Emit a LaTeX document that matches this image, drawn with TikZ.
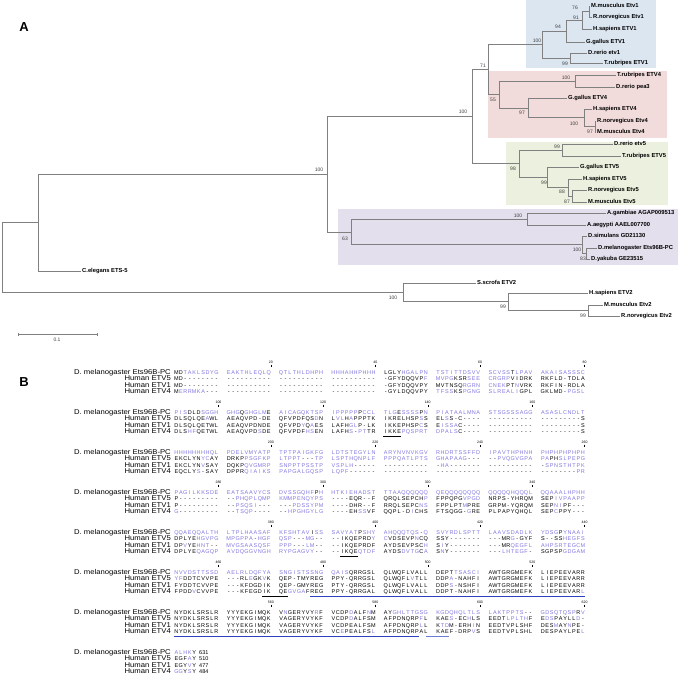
\documentclass[tikz,border=0pt]{standalone}
\usepackage{fontspec}
\setmainfont{Liberation Sans}
\newfontfamily\namefont[FakeStretch=1.1]{Liberation Sans}
\usepackage{xcolor}
\usepackage{tikz}
\usetikzlibrary{arrows.meta}
\definecolor{boxblue}{RGB}{220,230,241}
\definecolor{boxpink}{RGB}{242,220,219}
\definecolor{boxgreen}{RGB}{235,241,222}
\definecolor{boxlilac}{RGB}{228,223,236}
\definecolor{branchgray}{RGB}{128,128,128}
\definecolor{resid}{RGB}{128,118,222}
\definecolor{motif}{RGB}{45,65,190}
% one residue per fixed cell: capitals black, small letters purple, | = block gap
\newcommand{\seqgap}{7.85pt}
\def\sq#1{\sqloop#1\relax}
\def\sqloop#1{\ifx#1\relax\else\sqchar{#1}\expandafter\sqloop\fi}
\def\sqchar#1{\ifx#1|\hspace{\seqgap}\else\makebox[4.45pt][c]{\ifnum`#1>`Z\relax\textcolor{resid}{\uppercase{#1}}\else#1\fi}\fi}
\newcommand{\colx}[2]{174+52.3*#1+4.45*(#2-1)}
\newcommand{\alnrow}[6]{%
  \node[seqname] (dm#1)    at (171,#2)      {D. melanogaster Ets96B-PC};
  \node[seqname] (vfive#1) at (171,#2+6.4)  {Human ETV5};
  \node[seqname] (vone#1)  at (171,#2+12.8) {Human ETV1};
  \node[seqname] (vfour#1) at (171,#2+19.2) {Human ETV4};
  \node[seqline] (sdm#1)   at (174,#2)      {\sq{#3}};
  \node[seqline] (sfive#1) at (174,#2+6.4)  {\sq{#4}};
  \node[seqline] (sone#1)  at (174,#2+12.8) {\sq{#5}};
  \node[seqline] (sfour#1) at (174,#2+19.2) {\sq{#6}};
}
\newcommand{\ruler}[3]{%
  \foreach \n [count=\i from 0] in {#3} {
    \node[rulenum] (tk\n) at ({218.5+52.3*(#2+2*\i)},#1-10.8) {\n};
    \draw[line width=0.3pt] (tk\n.south) ++(0,1) -- ++(0,2.6);
  }
}

\begin{document}
\begin{tikzpicture}[x=1pt, y=-1pt,
  branch/.style={draw=branchgray, line width=0.7pt},
  leaf/.style={anchor=west, inner sep=1pt, text height=4pt, text depth=1pt,
               font=\bfseries\fontsize{5.8}{6}\selectfont},
  boot/.style={inner sep=0pt, font=\fontsize{5}{6}\selectfont, text=black!75},
  panel/.style={inner sep=0pt, font=\bfseries\fontsize{13}{14}\selectfont},
  seqname/.style={anchor=east, inner sep=0pt, text height=4pt, text depth=1pt,
                  font=\namefont\fontsize{7}{7}\selectfont},
  seqline/.style={anchor=west, inner sep=0pt, text height=4pt, text depth=1pt,
                  font=\fontsize{5.5}{6}\selectfont},
  rulenum/.style={inner sep=0pt, font=\fontsize{3.5}{4}\selectfont}]
  \useasboundingbox (0,0) rectangle (678,677);
  % panel A: clade shading
  \fill[boxblue]  (526,0)   rectangle (656,68);
  \fill[boxpink]  (488,71)  rectangle (667,138);
  \fill[boxgreen] (506,142) rectangle (668,205);
  \fill[boxlilac] (338,209) rectangle (678,265);
  \node[panel] (pa) at (24,27) {A};
  % tips
  \node[leaf] (mmA) at (590,6)   {M.musculus Etv1};
  \node[leaf] (rnA) at (592,17)  {R.norvegicus Etv1};
  \node[leaf] (hsA) at (592,29)  {H.sapiens ETV1};
  \node[leaf] (ggA) at (585,42)  {G.gallus ETV1};
  \node[leaf] (drA) at (587,53)  {D.rerio etv1};
  \node[leaf] (trA) at (603,63)  {T.rubripes ETV1};
  \node[leaf] (trB) at (616,75)  {T.rubripes ETV4};
  \node[leaf] (drB) at (615,87)  {D.rerio pea3};
  \node[leaf] (ggB) at (567,98)  {G.gallus ETV4};
  \node[leaf] (hsB) at (592,109) {H.sapiens ETV4};
  \node[leaf] (rnB) at (596,121) {R.norvegicus Etv4};
  \node[leaf] (mmB) at (596,132) {M.musculus Etv4};
  \node[leaf] (drC) at (613,144) {D.rerio etv5};
  \node[leaf] (trC) at (621,156) {T.rubripes ETV5};
  \node[leaf] (ggC) at (579,167) {G.gallus ETV5};
  \node[leaf] (hsC) at (582,179) {H.sapiens ETV5};
  \node[leaf] (rnC) at (587,190) {R.norvegicus Etv5};
  \node[leaf] (mmC) at (587,202) {M.musculus Etv5};
  \node[leaf] (agam) at (606,213) {A.gambiae AGAP009513};
  \node[leaf] (aaeg) at (586,225) {A.aegypti AAEL007700};
  \node[leaf] (dsim) at (587,236) {D.simulans GD21130};
  \node[leaf] (dmel) at (597,248) {D.melanogaster Ets96B-PC};
  \node[leaf] (dyak) at (590,259) {D.yakuba GE23515};
  \node[leaf] (cele) at (81,271)  {C.elegans ETS-5};
  \node[leaf] (sscr) at (476,283) {S.scrofa ETV2};
  \node[leaf] (hsD) at (588,293)  {H.sapiens ETV2};
  \node[leaf] (mmD) at (603,305)  {M.musculus Etv2};
  \node[leaf] (rnD) at (620,316)  {R.norvegicus Etv2};
  % inner nodes
  \coordinate (b76)   at (589,11.5);
  \coordinate (b91)   at (582,20.3);
  \coordinate (b94)   at (566,31.1);
  \coordinate (b99a)  at (570,58);
  \coordinate (b100a) at (542,44.6);
  \coordinate (b100b) at (575,81);
  \coordinate (b97b)  at (595,126.5);
  \coordinate (b100c) at (584,117.8);
  \coordinate (b97a)  at (528,107.9);
  \coordinate (b55)   at (499,94.4);
  \coordinate (b71)   at (488,69.5);
  \coordinate (b99c)  at (562,150);
  \coordinate (b87)   at (572,196);
  \coordinate (b88)   at (568,187.5);
  \coordinate (b99d)  at (547,177.3);
  \coordinate (b98)   at (519,163.6);
  \coordinate (b100d) at (472,116.6);
  \coordinate (b100e) at (527,219);
  \coordinate (b83)   at (586,253.5);
  \coordinate (b100f) at (582,244.8);
  \coordinate (b63)   at (351,231.9);
  \coordinate (b100g) at (327,174.2);
  \coordinate (b38)   at (38,222.6);
  \coordinate (b99f)  at (588,310.5);
  \coordinate (b99e)  at (508,301.8);
  \coordinate (b100h) at (403,292.4);
  \coordinate (root)  at (2,257.5);
  \foreach \p/\c in {b76/mmA.west, b76/rnA.west, b91/b76, b91/hsA.west, b94/b91, b94/ggA.west,
      b99a/drA.west, b99a/trA.west, b100a/b94, b100a/b99a,
      b100b/trB.west, b100b/drB.west, b97b/rnB.west, b97b/mmB.west, b100c/hsB.west, b100c/b97b,
      b97a/ggB.west, b97a/b100c, b55/b100b, b55/b97a, b71/b100a, b71/b55,
      b99c/drC.west, b99c/trC.west, b87/rnC.west, b87/mmC.west, b88/hsC.west, b88/b87,
      b99d/ggC.west, b99d/b88, b98/b99c, b98/b99d, b100d/b71, b100d/b98,
      b100e/agam.west, b100e/aaeg.west, b83/dmel.west, b83/dyak.west, b100f/dsim.west, b100f/b83,
      b63/b100e, b63/b100f, b100g/b100d, b100g/b63, b38/b100g, b38/cele.west,
      b99f/mmD.west, b99f/rnD.west, b99e/hsD.west, b99e/b99f, b100h/sscr.west, b100h/b99e,
      root/b38, root/b100h}
    \draw[branch] (\p) |- (\c);
  % bootstrap values
  \foreach \x/\y/\t [count=\i] in {575/8/76, 576/18/91, 558/27/94, 537/41/100, 565/64/99, 483/66/71,
      566/78/100, 493/100/55, 522/113/97, 574/124/100, 590/132/97, 463/112/100,
      557/147/99, 513/169/98, 544/183/99, 562/192/88, 567/202/87,
      518/216/100, 345/239/63, 577/250/100, 583/259/83, 319/170/100,
      393/298/100, 503/307/99, 583/316/99}
    \node[boot] (bs\i) at (\x,\y) {\t};
  % scale bar
  \coordinate (sbl) at (18,334);
  \coordinate (sbr) at (97,334);
  \draw[branch, line width=0.5pt, {Bar[width=3pt]}-{Bar[width=3pt]}] (sbl) -- (sbr);
  \node[boot] (sbt) at (57,340) {0.1};

  % panel B: alignment
  \node[panel] (pb) at (24,382) {B};
  \ruler{373}{1}{20,40,60,80}
  \ruler{413}{0}{100,120,140,160}
  \ruler{453}{1}{200,220,240,260}
  \ruler{493}{0}{280,300,320,340}
  \ruler{533}{1}{380,400,420,440}
  \ruler{573}{0}{460,480,500,520}
  \ruler{613}{1}{560,580,600,620}
  \alnrow{1}{373}
    {MDtaklsdyg|eakthleqlq|qtlthldhph|hhhahhphhh|LGLYhgalpn|tstittdsvv|scvssTlpav|akaisasssc}
    {MD--------|----------|----------|----------|-GFYDQQVPf|mvpgKSRsee|crgrpVIDRK|RKFLD-TDLA}
    {MD--------|----------|----------|----------|-GFYDQQVPY|MVTNSQrgrn|cnekPTnVRK|RKFIN-RDLA}
    {Merrmka---|----------|----------|----------|-GYLDQQVPY|tfssKSpgng|slrealiGPL|GKLMD-pgsl}
  \alnrow{2}{413}
    {pisDLDsggh|ghgQghglmE|aicagqktsp|ipppppPccl|tlgEssssPn|piataalmna|stsgsssagg|asaslcndlt}
    {DLSQLQEaWL|AEAQVPD-DE|QFVPDFQSdN|LvlHaPPPTK|IKRELHSPsS|ELsS-C----|----------|---------S}
    {DLSQLQETWL|AEAQVPDNDE|QFVPDyQaES|LAFHglP-LK|IKKEPHSPcS|EissaC----|----------|---------S}
    {DLShfQETWL|AEAQVPDsDE|QFVPDFhsEN|LAFHs-ptTR|IKKEpqsprt|dpalsC----|----------|---------S}
  \alnrow{3}{453}
    {hhhhhhhhql|pdelvmyatp|tptpaigkfg|ldtstegyln|arynvnvkgv|rhdrtssffd|ipavthphnh|phphphphph}
    {EKCLYNycAY|DRKPpsgfkp|ltppt---tp|lspthqnplf|pppqatlpts|ghapaag---|--pvqgvgpa|paPHslpepg}
    {EKCLYNvSAY|DQKPqvgmrp|snpptpsstp|vsplh-----|----------|-ha-------|----------|-spnsthtpk}
    {EQCLYs-SAY|DPPRqiaiks|papgalgqsp|lqpf------|----------|----------|----------|--------pr}
  \alnrow{4}{493}
    {pagilkksde|eatsaavycs|dvssgqhfPh|htkiehadst|ttaaqqqqqq|qeqqqqqqqq|qqqqqhqqql|qqaaalhphh}
    {P---------|--phqplqmp|kmmpenqyps|----EQR--F|QRQLSEPCHp|FPPQPGvpgd|NRPS-YHRQM|SEPivpaapp}
    {P---------|--psqsi---|---pdssypm|----DHR--F|RRQLSEPCns|FPPLPTmPRE|GRPM-YQRQM|SEPniPF---}
    {g---------|--tsqp----|--hpghgylg|----EHssVF|QQPL-DiCHS|FTSQGG-gRE|PLPAPYQHQL|SEPcPPY---}
  \alnrow{5}{533}
    {qqaeqqalth|ltplhaasaf|kfshtavIss|savyatPshy|ahqqqtqs-q|svyrdlsptt|laavsdadlk|ydsgPynaai}
    {DPLYEhgvpg|mpgppa-hgf|qsp---mg--|--IKQEPRDy|cVDSEVPnCQ|SSY-------|---MRg-GYF|S--SShegfs}
    {DPvYEhnt--|mvgsaasqsf|ppp---lm--|--IKQEPRDF|AYDSEVPSCh|SiY-------|---MRqegfl|ahpsrtegcm}
    {DPLYEqagqp|avdqggvngh|rypgagvy--|--IKQEqtdf|AYDSdvtgCa|SnY-------|---lhtegf-|SGPSPgdgam}
  \alnrow{6}{573}
    {nvvdsttssd|aelrldqfya|sngistssng|qaisQRRGSL|QLWQFLVALL|DEPTtsasci|AWTGRGMEFK|LIEPEEVARR}
    {yfDDTCVVPE|---RLeGKvK|QEP-TMYREG|PPY-QRRGSL|QLWQFLvTLL|DDPa-NAHFI|AWTGRGMEFK|LIEPEEVARR}
    {FYDDTCVVPE|---KFDGDIK|QEP-GMYREG|PTY-QRRGSL|QLWQFLVALL|DDPs-NSHFI|AWTGRGMEFK|LIEPEEVARR}
    {FPDDvCVVPE|---KFEGDIK|QEgvgaFREG|PPY-QRRGAL|QLWQFLVALL|DDPT-NAHFI|AWTGRGMEFK|LIEPEEVARl}
  \alnrow{7}{613}
    {NYDKLSRSLR|YYYEKGIMQK|VnGERYVYrF|VCDPdALFnM|AYghlttgsg|kgdqhqltls|laktppts--|gdsqtqspRv}
    {NYDKLSRSLR|YYYEKGIMQK|VAGERYVYKF|VCDPdALFSM|AFPDNQRPfL|KAEs-EChLS|EEDTlplthF|EdsPAYLLd-}
    {NYDKLSRSLR|YYYEKGIMQK|VAGERYVYKF|VCDPEALFSM|AFPDNQRPlL|KtdM-ERHiN|EEDTVPLSHF|DESmAYnPE-}
    {NYDKLSRSLR|YYYEKGIMQK|VAGERYVYKF|VCePEALFSl|AFPDNQRPAL|KAEF-DRPvS|EEDTVPLSHL|DESPAYLPEl}
  \alnrow{8}{653}{alhkY}{EGFaY}{EGYvY}{ggYsY}
  \foreach \t/\y [count=\i] in {631/653, 510/659.4, 477/665.8, 484/672.2}
    \node[seqline] (len\i) at (199,\y) {\t};
  % motif underlines
  \draw[line width=1.1pt] ({\colx{4}{1}},436.4) -- ({\colx{4}{5}},436.4);
  \draw[line width=1.1pt] ({\colx{3}{3}},556.4) -- ({\colx{3}{7}},556.4);
  \draw[line width=1.1pt] ({\colx{1}{9}},596.6) -- ({\colx{2}{3}},596.6);
  \draw[motif, line width=1.1pt] ({\colx{2}{8}},596.8) -- ({\colx{7}{11}},596.8);
  \draw[motif, line width=1.1pt] ({\colx{0}{1}},636.6) -- ({\colx{4}{9}},636.6);
  \draw[motif!70, line width=0.6pt] (426,636.6) -- ({\colx{5}{4}},636.6);
\end{tikzpicture}
\end{document}
